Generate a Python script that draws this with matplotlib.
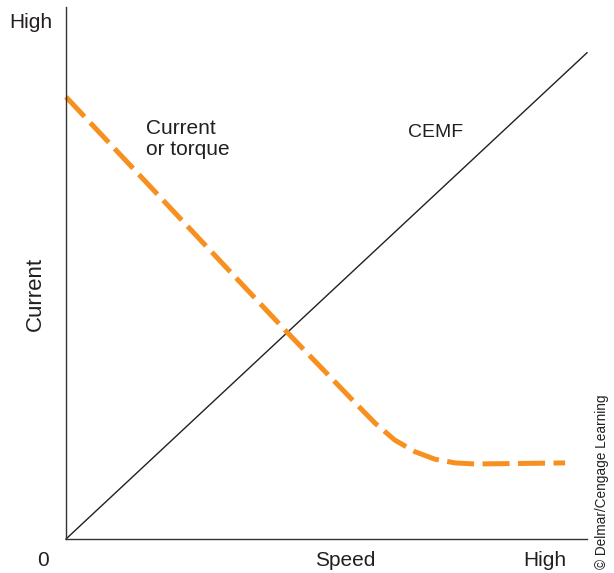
import matplotlib
matplotlib.use("Agg")
import matplotlib.pyplot as plt

plt.rcParams.update({
    "font.family": ["Liberation Sans", "DejaVu Sans"],
})

ORANGE = "#f7901e"
INK = "#231f20"

# speed axis 0..100, current axis 0..100 (arbitrary units)
cemf_speed = [0, 100]
cemf_value = [0, 91.4]

torque_speed = [0, 42.4, 55.5, 59.3, 63.1, 67.0, 70.8, 74.7, 78.5, 95.8]
torque_value = [83.1, 38.9, 25.6, 21.8, 18.6, 16.4, 15.0, 14.3, 14.1, 14.3]

fig = plt.figure(figsize=(6.14, 5.73), dpi=100)
ax = fig.add_axes([66 / 614, 34 / 573, 521 / 614, 532 / 573])
ax.set_xlim(0, 100)
ax.set_ylim(0, 100)
ax.set_xticks([])
ax.set_yticks([])
for side in ("top", "right"):
    ax.spines[side].set_visible(False)
for side in ("left", "bottom"):
    ax.spines[side].set_color("#333333")
    ax.spines[side].set_linewidth(1.0)

ax.plot(cemf_speed, cemf_value, color=INK, lw=1.0, clip_on=False)
ax.plot(torque_speed, torque_value, color=ORANGE, lw=3.6,
        dashes=(5.4, 1.7), dash_capstyle="butt", clip_on=False)

ax.text(15.4, 79.0, "Current\nor torque", fontsize=15, color=INK,
        ha="left", va="top", linespacing=1.15)
ax.text(65.6, 76.5, "CEMF", fontsize=14, color=INK, ha="left", va="center")

fig.text(31 / 614, 1 - 22 / 573, "High", fontsize=15, color=INK,
         ha="center", va="center")
fig.text(43 / 614, 1 - 560 / 573, "0", fontsize=15, color=INK,
         ha="center", va="center")
fig.text(345 / 614, 1 - 560 / 573, "Speed", fontsize=15, color=INK,
         ha="center", va="center")
fig.text(545 / 614, 1 - 560 / 573, "High", fontsize=15, color=INK,
         ha="center", va="center")
fig.text(35 / 614, 1 - 294 / 573, "Current", fontsize=16, color=INK,
         ha="center", va="center", rotation=90)
fig.text(602 / 614, 1 - 482 / 573, "© Delmar/Cengage Learning", fontsize=9.8,
         color=INK, ha="center", va="center", rotation=90)

fig.savefig("out.png", dpi=100)
